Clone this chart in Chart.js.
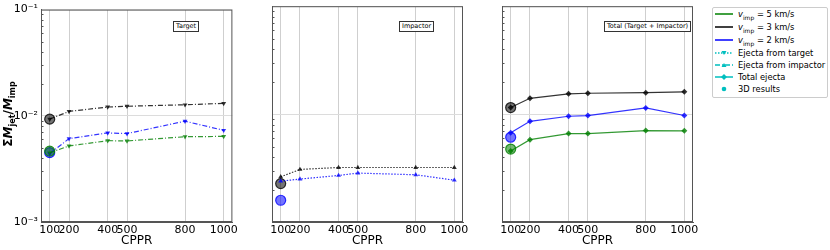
<!DOCTYPE html>
<html>
<head>
<meta charset="utf-8">
<script src="https://cdn.jsdelivr.net/npm/chart.js@4"></script>
<style>
  body { margin: 0; background: #fff; font-family: 'DejaVu Sans', sans-serif; }
  #wrap { position: relative; width: 830px; height: 250px; }
  canvas { position: absolute; top: 0; }
  .tag { position: absolute; top: 21px; border: 1px solid #333; font-size: 6.5px; padding: 0 2px; line-height: 9px; background: #fff; white-space: nowrap; }
  #ylab { position: absolute; left: -52px; top: 106px; width: 120px; height: 16px; line-height: 16px; text-align: center; transform: rotate(-90deg); font-size: 12px; font-weight: bold; }
  #ylab sub { font-size: 8px; }
  #legend { position: absolute; left: 712px; top: 7px; width: 114px; height: 89px; border: 1px solid #ccc; border-radius: 2px; font-size: 8.3px; }
  .row { position: absolute; left: 1px; height: 12px; line-height: 12px; white-space: nowrap; }
  .row svg { position: absolute; left: 0; top: 0; }
  .row span { position: absolute; left: 24px; }
  .row sub { font-size: 6px; }
</style>
</head>
<body>
<div id="wrap">
  <canvas id="c1" width="240" height="250" style="left:0px"></canvas>
  <canvas id="c2" width="240" height="250" style="left:231px"></canvas>
  <canvas id="c3" width="240" height="250" style="left:461px"></canvas>
  <div id="ylab">Σ<i>M</i><sub>jet</sub>/<i>M</i><sub>imp</sub></div>
  <div class="tag" style="left:173px">Target</div>
  <div class="tag" style="left:399px">Impactor</div>
  <div class="tag" style="left:604px">Total (Target + Impactor)</div>
  <div id="legend">
    <div class="row" style="top:0px"><svg width="20" height="12"><line x1="1" y1="6" x2="19" y2="6" stroke="#008000" stroke-width="1.5"/></svg><span><i>v</i><sub>imp</sub> = 5 km/s</span></div>
    <div class="row" style="top:13px"><svg width="20" height="12"><line x1="1" y1="6" x2="19" y2="6" stroke="#000" stroke-width="1.5"/></svg><span><i>v</i><sub>imp</sub> = 3 km/s</span></div>
    <div class="row" style="top:26px"><svg width="20" height="12"><line x1="1" y1="6" x2="19" y2="6" stroke="#0000ff" stroke-width="1.5"/></svg><span><i>v</i><sub>imp</sub> = 2 km/s</span></div>
    <div class="row" style="top:39px"><svg width="20" height="12"><line x1="1" y1="6" x2="19" y2="6" stroke="#00bfbf" stroke-width="1.5" stroke-dasharray="1.5,1.5"/><polygon points="7.5,4 12.5,4 10,8" fill="#00bfbf"/></svg><span>Ejecta from target</span></div>
    <div class="row" style="top:51px"><svg width="20" height="12"><line x1="1" y1="6" x2="19" y2="6" stroke="#00bfbf" stroke-width="1.5" stroke-dasharray="5,2,1,2"/><polygon points="7.5,8 12.5,8 10,4" fill="#00bfbf"/></svg><span>Ejecta from impactor</span></div>
    <div class="row" style="top:63px"><svg width="20" height="12"><line x1="1" y1="6" x2="19" y2="6" stroke="#00bfbf" stroke-width="1.5"/><polygon points="10,3 13,6 10,9 7,6" fill="#00bfbf"/></svg><span>Total ejecta</span></div>
    <div class="row" style="top:75px"><svg width="20" height="12"><circle cx="10" cy="6" r="2.3" fill="#00bfbf"/></svg><span>3D results</span></div>
  </div>
</div>
<script>
// x positions (CPPR) and tick labels
const cppr = [100, 200, 400, 500, 800, 1000];
const yTicks = [0.001, 0.01, 0.1];

// ejecta from target
const tgt5 = [0.00448, 0.0052, 0.00583, 0.0058, 0.00635, 0.0064];
const tgt3 = [0.0093, 0.0110, 0.0121, 0.0123, 0.0127, 0.0131];
const tgt2 = [0.0044, 0.0061, 0.0069, 0.0068, 0.0089, 0.0073];
// ejecta from impactor
const imp3 = [0.00262, 0.00307, 0.0032, 0.0032, 0.0032, 0.0032];
const imp2 = [0.00239, 0.0025, 0.0027, 0.00284, 0.00274, 0.00244];
// total
const tot5 = [0.00454, 0.0058, 0.0066, 0.0066, 0.00703, 0.0070];
const tot3 = [0.0115, 0.0140, 0.0154, 0.0156, 0.0158, 0.0161];
const tot2 = [0.00673, 0.00857, 0.00955, 0.0097, 0.0114, 0.0097];
// 3D results at CPPR 100
const tgt3d = { g: 0.00465, k: 0.0093, b: 0.0045 };
const imp3d = { k: 0.00227, b: 0.00159 };
const tot3d = { g: 0.00474, k: 0.0115, b: 0.0061 };

const col = { g: 'rgba(0,128,0,0.8)', k: 'rgba(0,0,0,0.8)', b: 'rgba(0,0,255,0.8)' };
const sup = { '-3': '⁻³', '-2': '⁻²', '-1': '⁻¹' };

function series(vals, c, style, dash, rot) {
  return {
    data: cppr.map((x, i) => ({ x: x, y: vals[i] })),
    borderColor: col[c], backgroundColor: col[c], borderWidth: 1.2,
    borderDash: dash, pointStyle: style, pointRotation: rot || 0,
    pointRadius: style === 'rectRot' ? 3 : 2.8, pointBorderWidth: 0
  };
}
function dots(obj) {
  return Object.keys(obj).map(c => ({
    data: [{ x: 100, y: obj[c] }], showLine: false,
    backgroundColor: col[c].replace('0.8)', '0.55)'), borderColor: col[c],
    pointStyle: 'circle', pointRadius: 5, pointBorderWidth: 1.2
  }));
}

const frame = {
  id: 'frame',
  afterDraw(chart) {
    const a = chart.chartArea, ctx = chart.ctx, y = chart.scales.y;
    ctx.save();
    ctx.strokeStyle = '#555';
    ctx.lineWidth = 1;
    for (let e = -3; e <= -2; e++) {
      for (let k = 2; k <= 9; k++) {
        const py = Math.round(y.getPixelForValue(k * Math.pow(10, e))) + 0.5;
        ctx.beginPath(); ctx.moveTo(a.left, py); ctx.lineTo(a.left + 2.5, py); ctx.stroke();
      }
    }
    ctx.strokeRect(a.left + 0.5, a.top + 0.5, a.right - a.left - 1, a.bottom - a.top - 1);
    ctx.restore();
  }
};

function panel(id, datasets, showY, padRight) {
  new Chart(document.getElementById(id), {
    type: 'line',
    data: { datasets: datasets },
    plugins: [frame],
    options: {
      responsive: false, animation: false,
      layout: { padding: { top: 6, right: padRight, left: 0, bottom: 0 } },
      plugins: { legend: { display: false }, tooltip: { enabled: false } },
      scales: {
        x: {
          type: 'linear', min: 55, max: 1045,
          afterBuildTicks: s => { s.ticks = cppr.map(v => ({ value: v })); },
          afterFit: s => { s.height = 28; },
          ticks: { autoSkip: false, maxRotation: 0, padding: 2, color: '#000',
                   font: { family: 'DejaVu Sans', size: 11 }, callback: v => String(v) },
          grid: { color: '#cfcfcf', drawTicks: false },
          border: { color: '#555' },
          title: { display: true, text: 'CPPR', color: '#000',
                   font: { family: 'DejaVu Sans', size: 12 }, padding: { top: 0, bottom: 2 } }
        },
        y: {
          type: 'logarithmic', min: 0.001, max: 0.1,
          afterBuildTicks: s => { s.ticks = yTicks.map(v => ({ value: v })); },
          afterFit: s => { s.width = 41; },
          ticks: { display: showY, padding: 3, color: '#000',
                   font: { family: 'DejaVu Sans', size: 11 },
                   callback: v => '10' + sup[String(Math.round(Math.log10(v)))] },
          grid: { color: '#dcdcdc', drawTicks: false },
          border: { color: '#555' }
        }
      }
    }
  });
}

const dd = [5, 2, 1, 2], dot = [1.5, 1.5];
panel('c1', [
  series(tgt5, 'g', 'triangle', dd, 180),
  series(tgt3, 'k', 'triangle', dd, 180),
  series(tgt2, 'b', 'triangle', dd, 180),
  ...dots(tgt3d)
], true, 7);
panel('c2', [
  series(imp3, 'k', 'triangle', dot, 0),
  series(imp2, 'b', 'triangle', dot, 0),
  ...dots(imp3d)
], false, 8);
panel('c3', [
  series(tot5, 'g', 'rectRot', [], 0),
  series(tot3, 'k', 'rectRot', [], 0),
  series(tot2, 'b', 'rectRot', [], 0),
  ...dots(tot3d)
], false, 8);
</script>
</body>
</html>
